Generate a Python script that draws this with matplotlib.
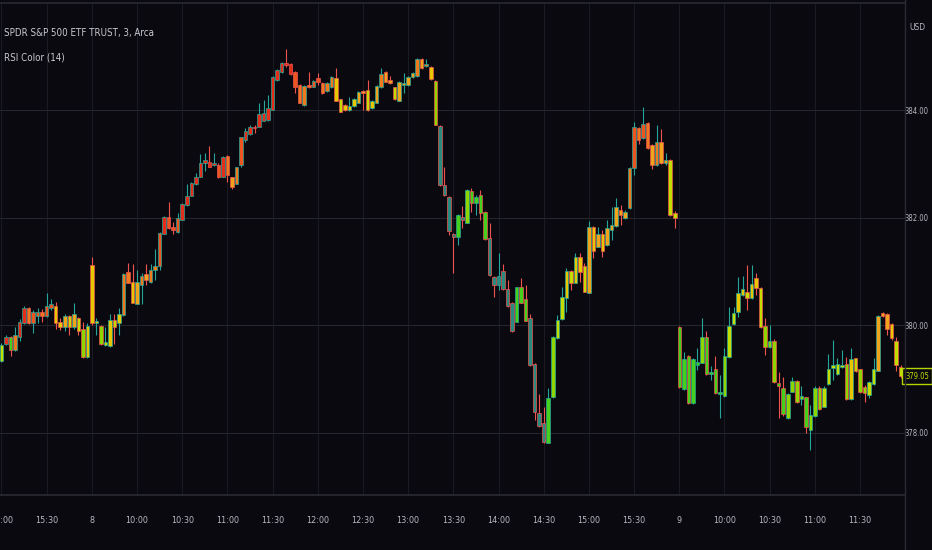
import numpy as np
import pandas as pd
import matplotlib
matplotlib.use('Agg')
import matplotlib.pyplot as plt
from matplotlib import font_manager as fm

# SPY 3-minute bars, 15:00 on the 7th through midday on the 9th
opens = [379.33, 379.65, 379.78, 379.53, 379.78, 380.04, 380.32, 380.04, 380.17, 380.24,
         380.17, 380.32, 380.35, 380.06, 379.96, 380.17, 379.96, 380.13, 379.93, 379.40,
         381.12, 380.04, 379.98, 379.63, 379.61, 380.09, 380.04, 380.19, 380.99, 380.80,
         380.39, 380.74, 380.95, 380.80, 381.02, 381.10, 381.69, 382.01, 381.82, 381.73,
         381.95, 382.23, 382.40, 382.62, 382.75, 383.01, 383.03, 382.98, 382.98, 382.75,
         383.14, 382.75, 382.62, 382.98, 383.44, 383.55, 383.68, 383.68, 383.80, 383.81,
         384.00, 384.56, 384.71, 384.87, 384.86, 384.71, 384.47, 384.09, 384.47, 384.43,
         384.60, 384.50, 384.35, 384.43, 384.60, 384.20, 384.09, 384.00, 384.07, 384.13,
         384.35, 384.37, 384.04, 384.13, 384.43, 384.71, 384.56, 384.43, 384.17, 384.47,
         384.47, 384.61, 384.63, 384.95, 384.82, 384.80, 384.54, 383.70, 382.60, 382.38,
         381.69, 381.64, 382.01, 381.90, 382.49, 382.27, 382.42, 382.10, 381.62, 380.89,
         380.74, 381.00, 380.67, 380.41, 380.06, 380.71, 380.48, 380.13, 379.27, 378.36,
         378.18, 377.80, 378.66, 379.76, 380.11, 380.50, 381.00, 380.78, 381.27, 381.10,
         380.60, 381.82, 381.45, 381.69, 381.49, 381.77, 381.84, 382.14, 381.99, 382.18,
         382.92, 383.67, 383.48, 383.76, 383.35, 382.98, 383.40, 383.01, 383.07, 382.08,
         379.96, 378.81, 379.42, 378.55, 379.26, 379.29, 379.78, 379.09, 379.18, 378.72,
         378.68, 379.40, 380.02, 380.24, 380.56, 380.61, 380.50, 380.87, 380.69, 379.98,
         379.59, 379.70, 378.92, 378.83, 378.27, 378.75, 378.96, 378.62, 378.66, 378.05,
         378.31, 378.83, 378.47, 378.90, 379.20, 379.09, 379.22, 379.27, 378.62, 379.39,
         379.18, 378.85, 378.70, 378.90, 379.14, 380.22, 380.20, 380.02, 379.70, 379.22]
highs = [379.67, 379.81, 379.80, 379.96, 380.11, 380.35, 380.33, 380.28, 380.32, 380.30,
         380.60, 380.48, 380.43, 380.13, 380.20, 380.19, 380.41, 380.15, 380.06, 380.04,
         381.27, 380.13, 380.00, 379.96, 380.20, 380.20, 380.32, 380.97, 381.15, 381.13,
         381.02, 380.97, 381.13, 381.13, 381.41, 381.73, 382.03, 382.29, 381.92, 382.08,
         382.27, 382.62, 382.66, 382.83, 383.18, 383.20, 383.33, 383.20, 383.01, 383.14,
         383.16, 382.75, 382.94, 383.50, 383.67, 383.72, 383.72, 384.13, 384.19, 384.28,
         384.63, 384.76, 384.89, 385.13, 384.87, 384.73, 384.48, 384.47, 384.71, 384.56,
         384.69, 384.52, 384.52, 384.63, 384.78, 384.20, 384.11, 384.24, 384.22, 384.35,
         384.37, 384.56, 384.19, 384.47, 384.78, 384.73, 384.63, 384.43, 384.54, 384.69,
         384.63, 384.71, 384.97, 384.97, 384.95, 384.82, 384.56, 383.72, 382.94, 382.40,
         381.71, 382.07, 382.21, 382.53, 382.55, 382.42, 382.51, 382.12, 381.90, 380.91,
         381.34, 381.13, 380.84, 380.43, 380.71, 380.87, 380.74, 380.20, 379.29, 378.72,
         378.47, 378.83, 379.80, 380.19, 380.71, 381.06, 381.02, 381.34, 381.34, 381.15,
         381.93, 381.84, 381.82, 381.77, 381.95, 382.20, 382.36, 382.23, 382.14, 382.94,
         383.78, 383.68, 384.06, 383.78, 383.37, 383.72, 383.65, 383.20, 383.09, 382.12,
         379.98, 379.50, 379.44, 379.39, 379.57, 380.13, 379.89, 379.24, 379.42, 379.07,
         379.57, 380.33, 380.33, 380.89, 380.91, 381.12, 381.12, 380.97, 380.71, 380.13,
         380.00, 379.74, 379.13, 379.03, 378.73, 379.03, 378.98, 378.87, 378.66, 378.51,
         378.87, 378.87, 378.87, 379.46, 379.72, 379.39, 379.53, 379.40, 379.57, 379.39,
         379.18, 378.88, 378.96, 379.39, 380.19, 380.24, 380.22, 380.04, 379.78, 379.26]
lows = [379.31, 379.63, 379.42, 379.52, 379.70, 380.02, 380.02, 379.85, 380.04, 380.06,
        380.15, 380.28, 379.93, 379.91, 379.89, 379.81, 379.93, 379.81, 379.39, 379.39,
        380.00, 379.81, 379.63, 379.61, 379.59, 379.65, 379.81, 380.17, 380.78, 380.41,
        380.39, 380.39, 380.74, 380.78, 380.84, 381.02, 381.69, 381.79, 381.69, 381.71,
        381.95, 382.21, 382.40, 382.60, 382.75, 382.87, 382.94, 382.96, 382.73, 382.75,
        382.66, 382.53, 382.62, 382.94, 383.40, 383.53, 383.57, 383.68, 383.80, 383.80,
        384.00, 384.54, 384.69, 384.80, 384.65, 384.32, 384.13, 384.07, 384.41, 384.43,
        384.47, 384.30, 384.34, 384.41, 384.17, 383.96, 383.98, 383.98, 384.06, 384.13,
        384.00, 383.98, 384.02, 384.13, 384.41, 384.52, 384.48, 384.19, 384.17, 384.32,
        384.45, 384.60, 384.61, 384.76, 384.80, 384.56, 383.72, 382.59, 382.40, 381.67,
        380.97, 381.49, 381.80, 381.90, 382.10, 382.05, 381.95, 381.58, 380.91, 380.52,
        380.65, 380.65, 380.33, 379.87, 380.06, 380.41, 380.07, 379.24, 378.23, 378.10,
        377.80, 377.80, 378.64, 379.74, 380.09, 380.24, 380.65, 380.78, 380.80, 380.61,
        380.60, 381.25, 381.45, 381.27, 381.47, 381.58, 381.82, 381.86, 381.97, 382.16,
        382.79, 383.37, 383.46, 383.27, 382.90, 382.96, 383.00, 382.98, 382.03, 381.80,
        378.83, 378.79, 378.53, 378.53, 379.16, 379.29, 379.07, 378.98, 378.72, 378.27,
        378.66, 379.39, 380.00, 380.15, 380.54, 380.28, 380.48, 380.56, 379.94, 379.44,
        379.57, 378.92, 378.27, 378.31, 378.25, 378.75, 378.55, 378.51, 377.99, 377.67,
        378.29, 378.42, 378.47, 378.88, 378.98, 379.07, 379.20, 378.60, 378.60, 379.13,
        378.73, 378.57, 378.64, 378.88, 379.14, 380.15, 379.81, 379.72, 379.14, 379.01]
closes = [379.63, 379.78, 379.53, 379.81, 380.06, 380.32, 380.04, 380.24, 380.24, 380.17,
          380.35, 380.39, 380.04, 379.96, 380.17, 379.96, 380.20, 379.89, 379.40, 379.98,
          380.04, 380.07, 379.65, 379.68, 380.09, 379.96, 380.20, 380.95, 380.78, 380.41,
          380.80, 380.91, 380.84, 381.02, 381.10, 381.71, 382.01, 381.80, 381.77, 381.99,
          382.25, 382.40, 382.64, 382.75, 383.01, 383.07, 382.94, 383.01, 382.75, 383.13,
          382.79, 382.57, 382.94, 383.50, 383.61, 383.68, 383.67, 383.93, 383.94, 384.04,
          384.61, 384.74, 384.87, 384.84, 384.67, 384.43, 384.13, 384.45, 384.43, 384.54,
          384.52, 384.32, 384.50, 384.61, 384.17, 383.96, 384.00, 384.07, 384.20, 384.34,
          384.32, 384.00, 384.17, 384.45, 384.67, 384.52, 384.50, 384.20, 384.52, 384.50,
          384.61, 384.69, 384.95, 384.78, 384.86, 384.58, 383.72, 382.60, 382.42, 381.75,
          381.64, 382.05, 381.95, 382.51, 382.27, 382.38, 382.08, 381.60, 380.93, 380.74,
          380.91, 380.67, 380.35, 379.89, 380.71, 380.41, 380.07, 379.26, 378.38, 378.12,
          377.82, 378.64, 379.78, 380.09, 380.52, 381.00, 380.78, 381.27, 380.99, 380.61,
          381.82, 381.38, 381.69, 381.38, 381.80, 381.86, 382.20, 382.05, 382.10, 382.92,
          383.68, 383.44, 383.74, 383.29, 382.98, 383.40, 383.01, 383.07, 382.05, 381.99,
          378.85, 379.37, 378.55, 379.37, 379.31, 379.78, 379.09, 379.13, 378.73, 378.75,
          379.42, 379.98, 380.22, 380.60, 380.67, 380.50, 380.76, 380.69, 379.96, 379.59,
          379.70, 378.94, 378.87, 378.34, 378.72, 378.96, 378.57, 378.68, 378.10, 378.33,
          378.83, 378.44, 378.83, 379.18, 379.26, 379.27, 379.26, 378.62, 379.37, 379.14,
          378.75, 378.73, 378.94, 379.18, 380.17, 380.17, 379.93, 379.76, 379.26, 379.05]

tick_pos = [0, 10, 20, 30, 40, 50, 60, 70, 80, 90, 100, 110, 120, 130, 140,
            150, 160, 170, 180, 190]
tick_lbl = ['15:00', '15:30', '8', '10:00', '10:30', '11:00', '11:30', '12:00',
            '12:30', '13:00', '13:30', '14:00', '14:30', '15:00', '15:30',
            '9', '10:00', '10:30', '11:00', '11:30']
price_ticks = [378, 380, 382, 384]
last_price = 379.05

# RSI(14), Wilder smoothing
c = pd.Series(closes)
d = c.diff().fillna(0)
avg_up = d.clip(lower=0).ewm(alpha=1 / 14, adjust=False).mean()
avg_dn = (-d.clip(upper=0)).ewm(alpha=1 / 14, adjust=False).mean()
rsi = (100 - 100 / (1 + avg_up / avg_dn)).fillna(50).to_numpy()

# colour bands, low RSI -> teal ... high RSI -> red
rsi_edges = [29, 38, 45, 51, 56, 61, 66, 71]
rsi_cols = ['#2a8a7e', '#44d01c', '#8fd600', '#c4dc00', '#e6c700',
            '#f0a41c', '#ef7a1e', '#ec5520', '#e52d1b']
fills = [rsi_cols[k] for k in np.digitize(rsi, rsi_edges)]


def narrow_font():
    # the screenshot's type is very condensed, take the narrowest sans we have
    ok = ('Noto Sans', 'Liberation Sans Narrow', 'DejaVu Sans', 'Roboto',
          'Open Sans', 'Lato', 'Inter', 'Liberation Sans')
    best = None
    for f in fm.fontManager.ttflist:
        if f.name not in ok or f.style != 'normal':
            continue
        w = f.weight if isinstance(f.weight, int) else fm.weight_dict.get(f.weight, 400)
        if w != 400:
            continue
        st = f.stretch if isinstance(f.stretch, int) else fm.stretch_dict.get(f.stretch, 500)
        if best is None or st < best[0]:
            best = (st, f.fname)
    return fm.FontProperties(fname=best[1]) if best else fm.FontProperties(family='DejaVu Sans')


fp = narrow_font()

bg = '#09090f'
up_col = '#26a69a'
dn_col = '#ef5350'
txt = '#b7b9c0'

o = np.array(opens)
h = np.array(highs)
l = np.array(lows)
cl = np.array(closes)
x = np.arange(len(o))
edge = np.where(cl >= o, up_col, dn_col)

fig = plt.figure(figsize=(9.32, 5.5), dpi=100, facecolor=bg)
ax = fig.add_axes([0, 55 / 550, 905 / 932, 492 / 550])
ax.set_facecolor(bg)

ax.vlines(x, l, h, colors=edge, linewidth=0.8, zorder=2)
body = np.maximum(np.abs(cl - o), 0.015)
ax.bar(x, body, bottom=np.minimum(o, cl), width=0.78, color=fills,
       edgecolor=edge, linewidth=0.5, zorder=3)

ax.set_xlim(-0.33, 199.95)
ax.set_ylim(376.84, 385.99)

ax.set_xticks(tick_pos, tick_lbl)
ax.set_yticks(price_ticks, ['%.2f' % p for p in price_ticks])
ax.yaxis.tick_right()
ax.tick_params(axis='x', length=0, pad=15, colors=txt)
ax.tick_params(axis='y', length=0, pad=8.5, colors=txt)
for lab in ax.get_xticklabels():
    lab.set_fontproperties(fp)
    lab.set_fontsize(6.5)
for lab in ax.get_yticklabels():
    lab.set_fontproperties(fp)
    lab.set_fontsize(5.5)
    lab.set_horizontalalignment('center')
ax.grid(True, axis='x', color='#1a1a22', linewidth=0.8)
ax.grid(True, axis='y', color='#25252d', linewidth=0.8)
ax.set_axisbelow(True)
for s in ['left', 'right']:
    ax.spines[s].set_visible(False)
for s in ['top', 'bottom']:
    ax.spines[s].set_color('#2a2a32')
    ax.spines[s].set_linewidth(1.2)

# price-scale separator runs the full height
fig.add_artist(plt.Line2D([904.5 / 932] * 2, [0, 1], color='#2a2a32', lw=1.0))

ax.annotate('%.2f' % last_price, xy=(1.0, last_price),
            xycoords=('axes fraction', 'data'), xytext=(8.6, 0),
            textcoords='offset points', ha='center', va='center',
            color='#c2dc00', fontproperties=fp, fontsize=5.5, annotation_clip=False,
            bbox=dict(boxstyle='square,pad=0.45', fc=bg, ec='#b8d400', lw=1))

fig.text(917 / 932, 1 - 28 / 550, 'USD', color=txt, fontproperties=fp,
         fontsize=6, va='center', ha='center')
fig.text(4 / 932, 1 - 33 / 550, 'SPDR S&P 500 ETF TRUST, 3, Arca', color='#c9cbd1',
         fontproperties=fp, fontsize=7, va='center')
fig.text(4 / 932, 1 - 57 / 550, 'RSI Color (14)', color='#c9cbd1',
         fontproperties=fp, fontsize=7, va='center')

fig.savefig('out.png', dpi=100, facecolor=bg)
